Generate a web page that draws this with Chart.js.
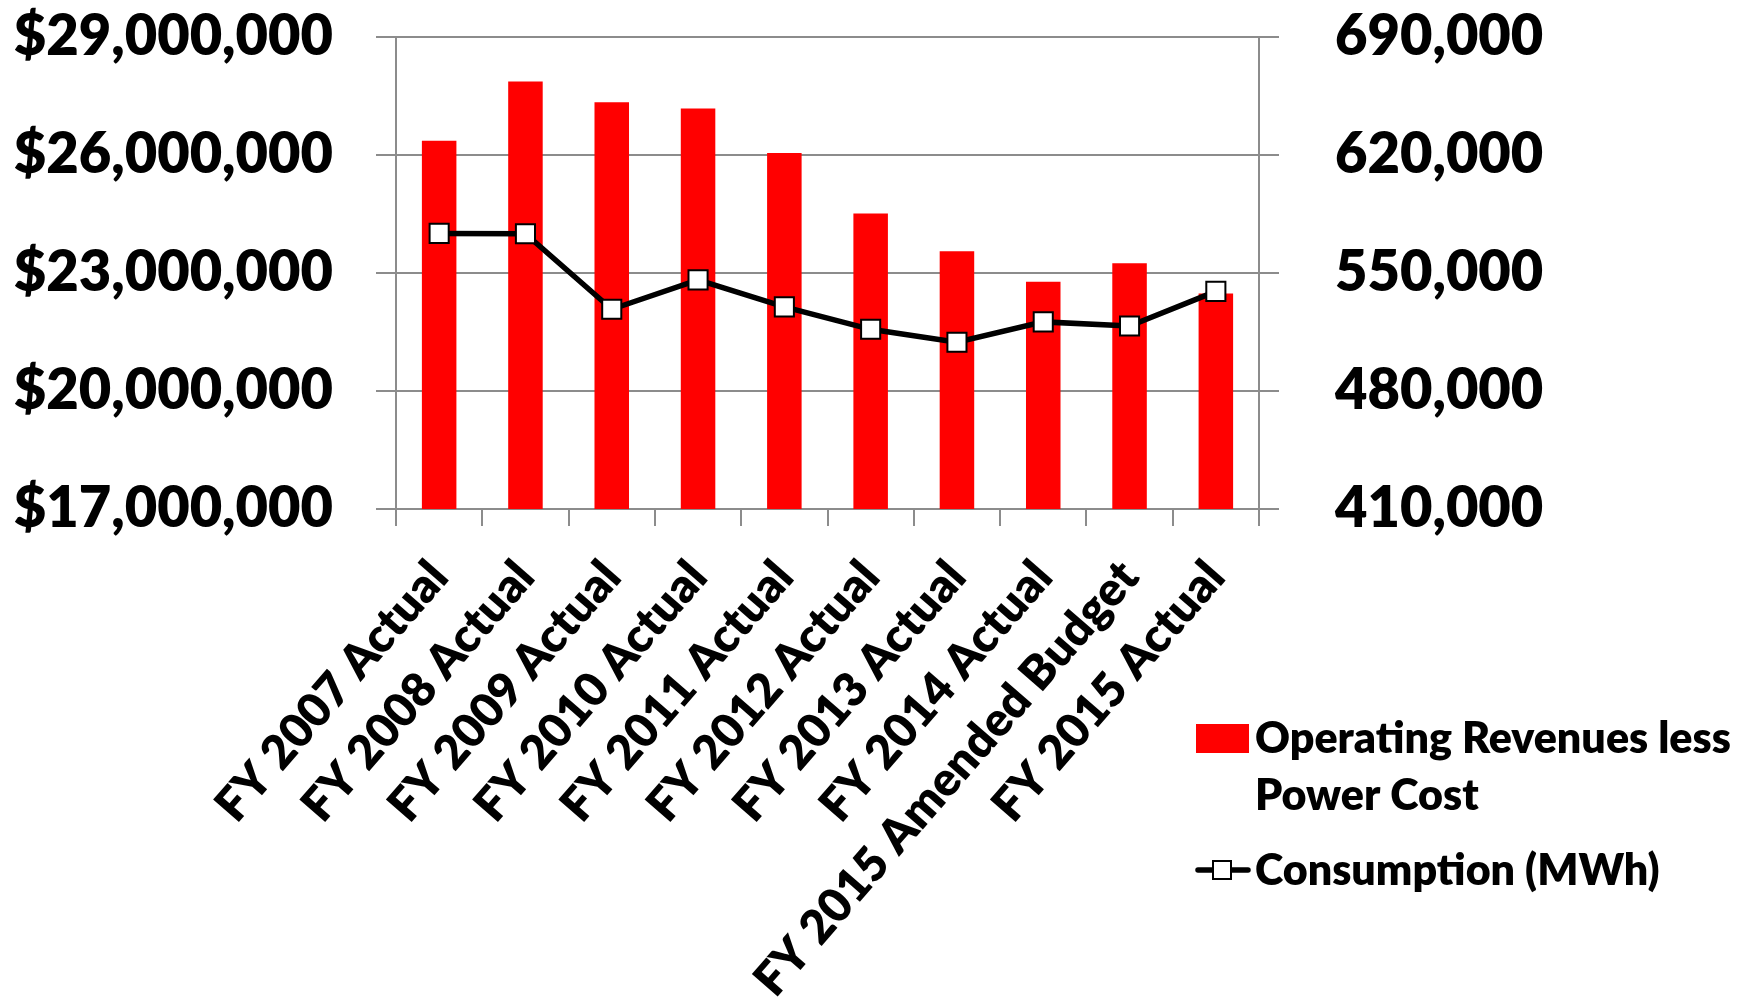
<!DOCTYPE html>
<html>
<head>
<meta charset="utf-8">
<script src="https://cdn.jsdelivr.net/npm/chart.js@4/dist/chart.umd.min.js"></script>
<style>
  html, body { margin: 0; padding: 0; background: #ffffff; }
  canvas { display: block; }
</style>
</head>
<body>
<canvas id="chart" width="1750" height="1003"></canvas>
<script>
// Fiscal years shown on the category axis
const categories = [
  'FY 2007 Actual', 'FY 2008 Actual', 'FY 2009 Actual', 'FY 2010 Actual',
  'FY 2011 Actual', 'FY 2012 Actual', 'FY 2013 Actual', 'FY 2014 Actual',
  'FY 2015 Amended Budget', 'FY 2015 Actual'
];

// Operating revenues less power cost, dollars (left axis)
const revenueLessPowerCost = [
  26360000, 27870000, 27340000, 27180000, 26050000,
  24510000, 23550000, 22780000, 23250000, 22480000
];

// Energy consumption, MWh (right axis)
const consumptionMWh = [
  573500, 573300, 528500, 545900, 529900,
  516600, 508900, 521000, 518600, 539100
];

// Axis tick values
const dollarTicks = [17000000, 20000000, 23000000, 26000000, 29000000];
const mwhTicks = [410000, 480000, 550000, 620000, 690000];

const FONT = 'Lato';
const WEIGHT = '800';
const AXIS_GREY = 'rgb(140,140,140)';

const fmt = v => v.toLocaleString('en-US');

// Legend drawn to the right of the category labels, wrapping long names
const sideLegend = {
  id: 'sideLegend',
  afterDraw(chart) {
    const ctx = chart.ctx;
    const sets = chart.data.datasets;
    const bar = sets.find(d => d.type === 'bar');
    const line = sets.find(d => d.type === 'line');
    const textX = 1255;
    const maxW = chart.width - textX;
    ctx.save();
    ctx.font = `${WEIGHT} 43px ${FONT}`;
    ctx.textAlign = 'left';
    ctx.textBaseline = 'alphabetic';

    // word wrap helper
    const wrap = (text) => {
      const words = text.split(' ');
      const lines = [];
      let cur = '';
      for (const w of words) {
        const test = cur ? cur + ' ' + w : w;
        if (ctx.measureText(test).width > maxW && cur) {
          lines.push(cur);
          cur = w;
        } else {
          cur = test;
        }
      }
      if (cur) lines.push(cur);
      return lines;
    };

    // bar entry
    ctx.fillStyle = bar.backgroundColor;
    ctx.fillRect(1196, 724, 53, 29);
    ctx.fillStyle = '#000000';
    wrap(bar.label).forEach((t, i) => ctx.fillText(t, textX, 753 + i * 57));

    // line entry
    const cy = 870;
    ctx.strokeStyle = line.borderColor;
    ctx.lineWidth = line.borderWidth;
    ctx.lineCap = 'round';
    ctx.beginPath();
    ctx.moveTo(1198, cy);
    ctx.lineTo(1248, cy);
    ctx.stroke();
    ctx.fillStyle = line.pointBackgroundColor;
    ctx.fillRect(1213, cy - 9, 18, 18);
    ctx.lineWidth = line.pointBorderWidth;
    ctx.strokeStyle = line.pointBorderColor;
    ctx.strokeRect(1213, cy - 9, 18, 18);
    ctx.fillStyle = '#000000';
    ctx.fillText(line.label, textX, 885);
    ctx.restore();
  }
};

new Chart(document.getElementById('chart'), {
  data: {
    labels: categories,
    datasets: [
      {
        type: 'line',
        label: 'Consumption (MWh)',
        data: consumptionMWh,
        yAxisID: 'yMWh',
        order: 0,
        borderColor: '#000000',
        borderWidth: 5.5,
        tension: 0,
        pointStyle: 'rect',
        pointRadius: 13.5,
        pointHoverRadius: 13.5,
        pointBackgroundColor: '#ffffff',
        pointBorderColor: '#000000',
        pointBorderWidth: 2
      },
      {
        type: 'bar',
        label: 'Operating Revenues less Power Cost',
        data: revenueLessPowerCost,
        yAxisID: 'yUSD',
        order: 1,
        backgroundColor: '#ff0000',
        borderWidth: 0,
        barPercentage: 0.4,
        categoryPercentage: 1.0
      }
    ]
  },
  options: {
    responsive: false,
    animation: false,
    layout: { padding: { top: 37, left: 0, right: 0, bottom: 0 } },
    plugins: {
      legend: { display: false },
      tooltip: { enabled: false }
    },
    scales: {
      x: {
        type: 'category',
        offset: true,
        grid: {
          offset: true,
          drawOnChartArea: false,
          drawTicks: true,
          tickLength: 17,
          color: AXIS_GREY,
          lineWidth: 2
        },
        border: { display: true, color: AXIS_GREY, width: 2 },
        ticks: {
          autoSkip: false,
          minRotation: 49,
          maxRotation: 49,
          padding: 24,
          color: '#000000',
          font: { family: FONT, size: 47, weight: WEIGHT }
        },
        afterFit(scale) { scale.height = 494; }
      },
      yUSD: {
        type: 'linear',
        position: 'left',
        min: dollarTicks[0],
        max: dollarTicks[dollarTicks.length - 1],
        afterBuildTicks(scale) { scale.ticks = dollarTicks.map(v => ({ value: v })); },
        grid: {
          color: AXIS_GREY,
          lineWidth: 2,
          tickLength: 20
        },
        border: { display: true, color: AXIS_GREY, width: 2 },
        ticks: {
          padding: 43,
          color: '#000000',
          font: { family: FONT, size: 56, weight: WEIGHT },
          callback: v => '$' + fmt(v)
        },
        afterFit(scale) {
          scale.width = 396;
          scale.paddingTop = 0;
          scale.paddingBottom = 0;
        }
      },
      yMWh: {
        type: 'linear',
        position: 'right',
        min: mwhTicks[0],
        max: mwhTicks[mwhTicks.length - 1],
        afterBuildTicks(scale) { scale.ticks = mwhTicks.map(v => ({ value: v })); },
        grid: {
          drawOnChartArea: false,
          color: AXIS_GREY,
          lineWidth: 2,
          tickLength: 20
        },
        border: { display: true, color: AXIS_GREY, width: 2 },
        ticks: {
          padding: 56,
          color: '#000000',
          font: { family: FONT, size: 56, weight: WEIGHT },
          callback: v => fmt(v)
        },
        afterFit(scale) {
          scale.width = 491;
          scale.paddingTop = 0;
          scale.paddingBottom = 0;
        }
      }
    }
  },
  plugins: [sideLegend]
});
</script>
</body>
</html>
